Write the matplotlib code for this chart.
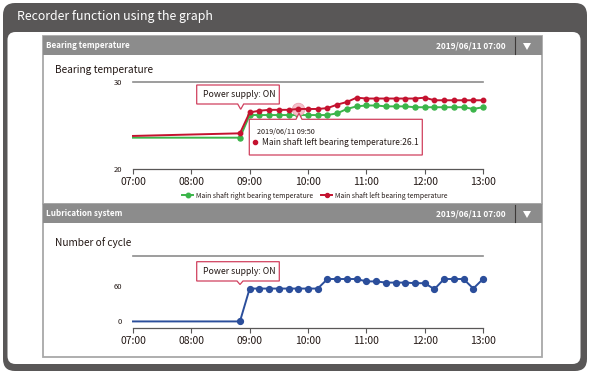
import matplotlib
matplotlib.use("Agg")
import matplotlib.pyplot as plt
from matplotlib.patches import FancyBboxPatch, Rectangle, Polygon

# ---------------- data ----------------
times = ["07:00", "08:50", "09:00", "09:10", "09:20", "09:30", "09:40", "09:50",
         "10:00", "10:10", "10:20", "10:30", "10:40", "10:50", "11:00", "11:10",
         "11:20", "11:30", "11:40", "11:50", "12:00", "12:10", "12:20", "12:30",
         "12:40", "12:50", "13:00"]
right_temp = [23.6, 23.6, 26.2, 26.2, 26.2, 26.2, 26.2, 26.2, 26.2, 26.2, 26.2,
              26.4, 26.9, 27.2, 27.3, 27.3, 27.2, 27.2, 27.2, 27.1, 27.1, 27.1,
              27.1, 27.1, 27.1, 26.9, 27.1]
left_temp = [23.8, 24.1, 26.5, 26.7, 26.8, 26.8, 26.8, 26.9, 26.9, 26.9, 27.0,
             27.4, 27.7, 28.2, 28.1, 28.1, 28.1, 28.1, 28.1, 28.1, 28.2, 27.9,
             27.9, 27.9, 27.9, 27.9, 27.9]
cycles = [0, 0, 55, 55, 55, 55, 55, 55, 55, 55, 71, 71, 71, 71, 67, 67, 65, 65,
          65, 64, 64, 54, 71, 71, 71, 55, 71]
xtick_labels = ["07:00", "08:00", "09:00", "10:00", "11:00", "12:00", "13:00"]
temp_ticks = [20, 30]
cycle_ticks = [0, 60]
highlight_time = "09:50"
tooltip_value = "26.1"


def to_min(t):
    h, m = t.split(":")
    return (int(h) - 7) * 60 + int(m)


xm = [to_min(t) for t in times]
xt = [to_min(t) for t in xtick_labels]

FONT = ["Noto Sans CJK JP", "DejaVu Sans"]
plt.rcParams["font.family"] = FONT

W, H = 589, 377
fig = plt.figure(figsize=(W / 100, H / 100), dpi=100)
fig.patch.set_facecolor("white")

DARK = "#595757"
HEAD = "#8c8c8c"
BORDER = "#a8a8a8"
TXT = "#231815"
GREEN = "#3bb54a"
RED = "#c4122f"
BLUE = "#2b4e9b"
CALL = "#d0405e"

bg = fig.add_axes([0, 0, 1, 1])
bg.set_xlim(0, W)
bg.set_ylim(H, 0)
bg.axis("off")

# outer frame
bg.add_patch(FancyBboxPatch((3, 3), 584, 368, boxstyle="round,pad=0,rounding_size=12",
                            fc=DARK, ec="none"))
bg.add_patch(FancyBboxPatch((7.5, 32), 573, 332, boxstyle="round,pad=0,rounding_size=8",
                            fc="white", ec="none"))
bg.text(17, 16.5, "Recorder function using the graph", color="white", fontsize=8.9,
        va="center", ha="left")


def panel(y0, y1, title, subtitle, ysub):
    bg.add_patch(Rectangle((43, y0), 499, y1 - y0, fc="white", ec=BORDER, lw=1.3))
    bg.add_patch(Rectangle((43, y0), 499, 19, fc=HEAD, ec="none"))
    bg.text(46, y0 + 9.5, title, color="white", fontsize=5.8, fontweight="bold",
            va="center", ha="left")
    bg.text(506, y0 + 9.5, "2019/06/11 07:00", color="white", fontsize=6.0,
            fontweight="bold", va="center", ha="right")
    bg.plot([515, 515], [y0 + 1, y0 + 18], color="#3d3a39", lw=0.8)
    bg.add_patch(Polygon([(523, y0 + 7), (531, y0 + 7), (527, y0 + 14)], closed=True,
                         fc="white", ec="none"))
    bg.text(55, ysub, subtitle, color=TXT, fontsize=7.3, va="center", ha="left")


panel(36, 204, "Bearing temperature", "Bearing temperature", 70)
panel(204, 357, "Lubrication system", "Number of cycle", 242.7)


def px_axes(x0, y0, x1, y1):
    return fig.add_axes([x0 / W, 1 - y1 / H, (x1 - x0) / W, (y1 - y0) / H])


def style_axes(ax, ylim, yticks):
    ax.set_xlim(0, 360)
    ax.set_ylim(*ylim)
    ax.patch.set_visible(False)
    for s in ("left", "right"):
        ax.spines[s].set_visible(False)
    ax.spines["top"].set_color("#8c8c8c")
    ax.spines["top"].set_linewidth(1.2)
    ax.spines["bottom"].set_color(DARK)
    ax.spines["bottom"].set_linewidth(0.9)
    ax.set_xticks(xt)
    ax.set_xticklabels(xtick_labels)
    ax.set_yticks(yticks)
    ax.set_yticklabels([str(v) for v in yticks])
    ax.tick_params(axis="x", direction="out", length=3.5, width=0.8, color=DARK,
                   labelsize=7.5, labelcolor=TXT, pad=2.5)
    ax.tick_params(axis="y", length=0, labelsize=5.5, labelcolor=TXT, pad=8)


ax1 = px_axes(133, 82, 483, 169)
style_axes(ax1, (20, 30), temp_ticks)
mk = list(range(1, len(times)))
ax1.plot(xm, right_temp, color=GREEN, lw=1.4, marker="o", ms=3.6, markevery=mk,
         label="Main shaft right bearing temperature", clip_on=False, zorder=3)
ax1.plot(xm, left_temp, color=RED, lw=1.4, marker="o", ms=3.2, markevery=mk,
         label="Main shaft left bearing temperature", clip_on=False, zorder=4)
hi = times.index(highlight_time)
ax1.plot([xm[hi]], [left_temp[hi]], marker="o", ms=9, mfc="#f5c0ca", mec="#eda3b3",
         mew=0.6, ls="none", zorder=3.5)
leg = fig.legend(loc="center", bbox_to_anchor=(315 / W, 1 - 195.5 / H), ncol=2,
                 frameon=False, fontsize=4.9, handlelength=1.6, handletextpad=0.5,
                 columnspacing=1.1, markerscale=0.9)
for t in leg.get_texts():
    t.set_color(TXT)

ax2 = px_axes(133, 256, 483, 328)
style_axes(ax2, (-11, 109.5), cycle_ticks)
ax2.plot(xm, cycles, color=BLUE, lw=1.4, marker="o", ms=4.2, markevery=mk,
         clip_on=False, zorder=3)

# overlay for callouts
ov = fig.add_axes([0, 0, 1, 1], zorder=10)
ov.set_xlim(0, W)
ov.set_ylim(H, 0)
ov.axis("off")


def callout_down(x0, y0, x1, y1, tx, ty, hw=3):
    pts = [(x0, y0), (x1, y0), (x1, y1), (tx + hw, y1), (tx, ty), (tx - hw, y1), (x0, y1)]
    ov.add_patch(Polygon(pts, closed=True, fc="white", ec=CALL, lw=0.9))


def callout_up(x0, y0, x1, y1, tx, ty, hw=3):
    pts = [(x0, y0), (tx - hw, y0), (tx, ty), (tx + hw, y0), (x1, y0), (x1, y1), (x0, y1)]
    ov.add_patch(Polygon(pts, closed=True, fc="white", ec=CALL, lw=0.9))


callout_down(196.7, 85, 279.3, 104, 240.7, 109.3)
ov.text(202.7, 94.7, "Power supply: ON", fontsize=6.3, color=TXT, va="center", ha="left")

callout_up(249.3, 119.3, 422.3, 155, 299, 113.3)
ov.text(257, 132.3, "2019/06/11 " + highlight_time, fontsize=5.2, color=TXT,
        va="center", ha="left")
ov.plot([254.7], [142.3], marker="o", ms=3, color=RED, ls="none")
ov.text(262.3, 142.3, "Main shaft left bearing temperature:" + tooltip_value,
        fontsize=6.0, color=TXT, va="center", ha="left")

callout_down(196.7, 261.7, 279.3, 281, 240, 284.5)
ov.text(202.7, 271.3, "Power supply: ON", fontsize=6.3, color=TXT, va="center", ha="left")

fig.savefig("out.png", dpi=100)
